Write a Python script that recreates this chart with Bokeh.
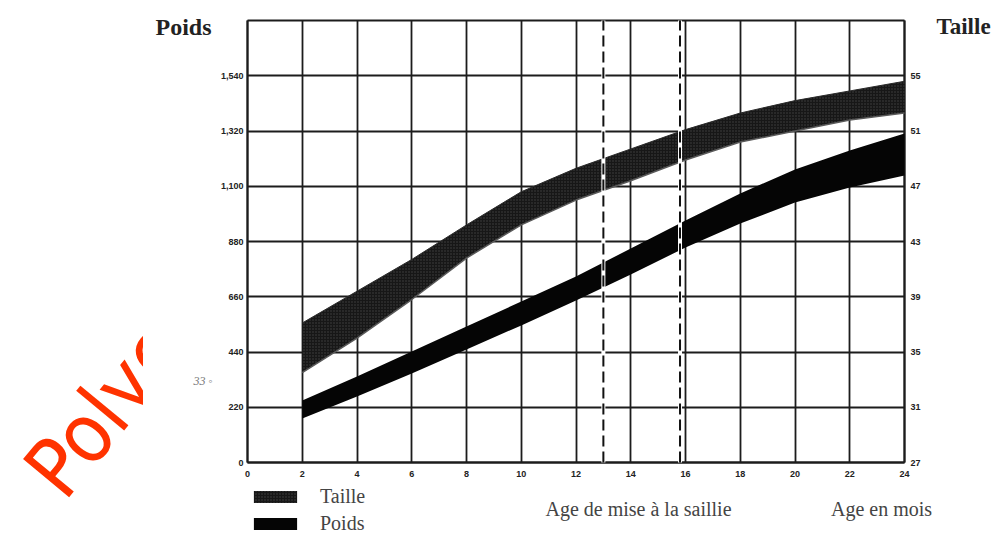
from bokeh.plotting import figure
from bokeh.models import Range1d, LinearAxis, FixedTicker, Label, Legend, LegendItem
from bokeh.layouts import row
from bokeh.embed import file_html
from bokeh.resources import INLINE
from bokeh.core.properties import value

# ---------------- data ----------------
ages = [2, 4, 6, 8, 10, 12, 14, 16, 18, 20, 22, 24]            # mois
taille_haut = [37.1, 39.4, 41.7, 44.2, 46.6, 48.3, 49.7, 51.1, 52.3, 53.2, 53.9, 54.6]  # pouces
taille_bas = [33.5, 36.0, 38.8, 41.8, 44.2, 46.0, 47.4, 48.9, 50.2, 51.0, 51.8, 52.3]
poids_haut = [247, 342, 442, 542, 641, 741, 852, 964, 1071, 1167, 1242, 1310]         # livres
poids_bas = [175, 263, 354, 450, 546, 645, 749, 856, 952, 1035, 1095, 1143]
age_ticks = [0, 2, 4, 6, 8, 10, 12, 14, 16, 18, 20, 22, 24]
poids_ticks = [0, 220, 440, 660, 880, 1100, 1320, 1540]
poids_labels = ["0", "220", "440", "660", "880", "1,100", "1,320", "1,540"]
taille_ticks = [27, 31, 35, 39, 43, 47, 51, 55]
saillie = [13.0, 15.8]

# ---------------- layout helpers (page pixels -> data) ----------------
FX0, FX1, FY0, FY1 = 247, 904, 20, 462          # plot box in page pixels
W_TOT, H = 994, 533
WA = 143                                        # watermark strip width
WB = W_TOT - WA

def dx(px):
    return (px - FX0) * 24 / (FX1 - FX0)

def dy(py):
    return (FY1 - py) * 1760 / (FY1 - FY0)

def to_in(w):
    return 27 + w * 32 / 1760

# ---------------- watermark strip (clipped at its right edge) ----------------
pa = figure(width=WA, height=H, x_range=Range1d(0, WA), y_range=Range1d(0, H),
            output_backend="svg", toolbar_location=None, x_axis_type=None, y_axis_type=None,
            min_border=0, min_border_left=0, min_border_right=0, min_border_top=0,
            min_border_bottom=0)
pa.outline_line_color = None
pa.grid.visible = False
pa.text(x=[42], y=[H - 484], text=["Polyc"], angle=0.88,
        text_font=value("'Liberation Sans Narrow', 'DejaVu Sans Condensed', 'Liberation Sans', sans-serif"),
        text_font_size="82px", text_color="#ff3300",
        text_baseline="alphabetic", text_align="left")

# ---------------- main chart ----------------
p = figure(width=WB, height=H, x_range=Range1d(dx(WA), dx(W_TOT)),
           y_range=Range1d(dy(H), dy(0)), output_backend="svg", toolbar_location=None,
           min_border=0, min_border_left=0, min_border_right=0, min_border_top=0,
           min_border_bottom=0)
p.extra_y_ranges = {"taille": Range1d(to_in(dy(H)), to_in(dy(0)))}
p.outline_line_color = None
p.grid.visible = False

LINE = "#1c1c1c"
tick_font = "Liberation Sans"

xa = p.xaxis[0]
xa.fixed_location = 0
xa.bounds = (0, 24)
xa.ticker = FixedTicker(ticks=age_ticks)
xa.major_tick_in = FY1 - FY0
xa.major_tick_out = 0
xa.major_label_standoff = 8

ya = p.yaxis[0]
ya.fixed_location = 0
ya.bounds = (0, 1760)
ya.ticker = FixedTicker(ticks=poids_ticks)
ya.major_label_overrides = {t: l for t, l in zip(poids_ticks, poids_labels)}
ya.major_tick_in = FX1 - FX0
ya.major_tick_out = 0
ya.major_label_standoff = 4

ra = LinearAxis(y_range_name="taille", fixed_location=24, bounds=(27, 59),
                ticker=FixedTicker(ticks=taille_ticks))
ra.major_tick_in = 0
ra.major_tick_out = 0
ra.major_label_standoff = 6
p.add_layout(ra, "right")

ta = LinearAxis(fixed_location=1760, bounds=(0, 24), ticker=FixedTicker(ticks=[]))
ta.major_tick_in = 0
ta.major_tick_out = 0
p.add_layout(ta, "above")

for ax in [xa, ya, ra, ta]:
    ax.level = "underlay"
    ax.axis_line_color = LINE
    ax.axis_line_width = 2
    ax.major_tick_line_color = LINE
    ax.major_tick_line_width = 1.8
    ax.minor_tick_line_color = None
    ax.major_label_text_font = tick_font
    ax.major_label_text_font_style = "bold"
    ax.major_label_text_font_size = "9px"
    ax.major_label_text_color = "#222222"

# bands
band_t = p.varea(x=ages, y1=taille_bas, y2=taille_haut, y_range_name="taille",
                 fill_color="#171717", hatch_pattern="dot", hatch_color="#8a8a8a",
                 hatch_alpha=0.4, hatch_scale=3, hatch_weight=1)
p.line(ages, taille_bas, y_range_name="taille", line_color="#5a5a5a", line_width=1.5)
p.line(ages, taille_haut, y_range_name="taille", line_color="#2a2a2a", line_width=1)
band_p = p.varea(x=ages, y1=poids_bas, y2=poids_haut, fill_color="#050505")

# age de mise a la saillie (dashed verticals)
p.segment(x0=saillie, y0=[0] * len(saillie), x1=saillie, y1=[1760] * len(saillie),
          line_color="white", line_width=4)
p.segment(x0=saillie, y0=[0] * len(saillie), x1=saillie, y1=[1760] * len(saillie),
          line_color="#111111", line_width=2, line_dash="11 5")

legend = Legend(items=[LegendItem(label="Taille", renderers=[band_t]),
                       LegendItem(label="Poids", renderers=[band_p])],
                location=(248 - WA, -2), glyph_width=54, glyph_height=15, label_standoff=18,
                spacing=4, padding=0, margin=0, border_line_color=None,
                background_fill_alpha=0, label_text_font="Liberation Serif",
                label_text_font_size="20px", label_text_color="#444444", label_height=20)
p.add_layout(legend)

serif = "Liberation Serif"
p.add_layout(Label(x=dx(155), y=dy(26), text="Poids", text_font=serif, text_font_style="bold",
                   text_font_size="24px", text_color="#222222", text_baseline="middle"))
p.add_layout(Label(x=dx(936), y=dy(26), text="Taille", text_font=serif, text_font_style="bold",
                   text_font_size="23px", text_color="#222222", text_baseline="middle"))
p.add_layout(Label(x=dx(638), y=dy(508), text="Age de mise à la saillie", text_font=serif,
                   text_font_size="20px", text_color="#444444", text_align="center",
                   text_baseline="middle"))
p.add_layout(Label(x=dx(881), y=dy(508), text="Age en mois", text_font=serif,
                   text_font_size="20px", text_color="#444444", text_align="center",
                   text_baseline="middle"))
p.add_layout(Label(x=dx(193), y=dy(380), text="33 ◦", text_font=serif, text_font_style="italic",
                   text_font_size="12px", text_color="#777777", text_baseline="middle"))

layout = row(pa, p, spacing=0)
open("out.html", "w").write(file_html(layout, INLINE))
